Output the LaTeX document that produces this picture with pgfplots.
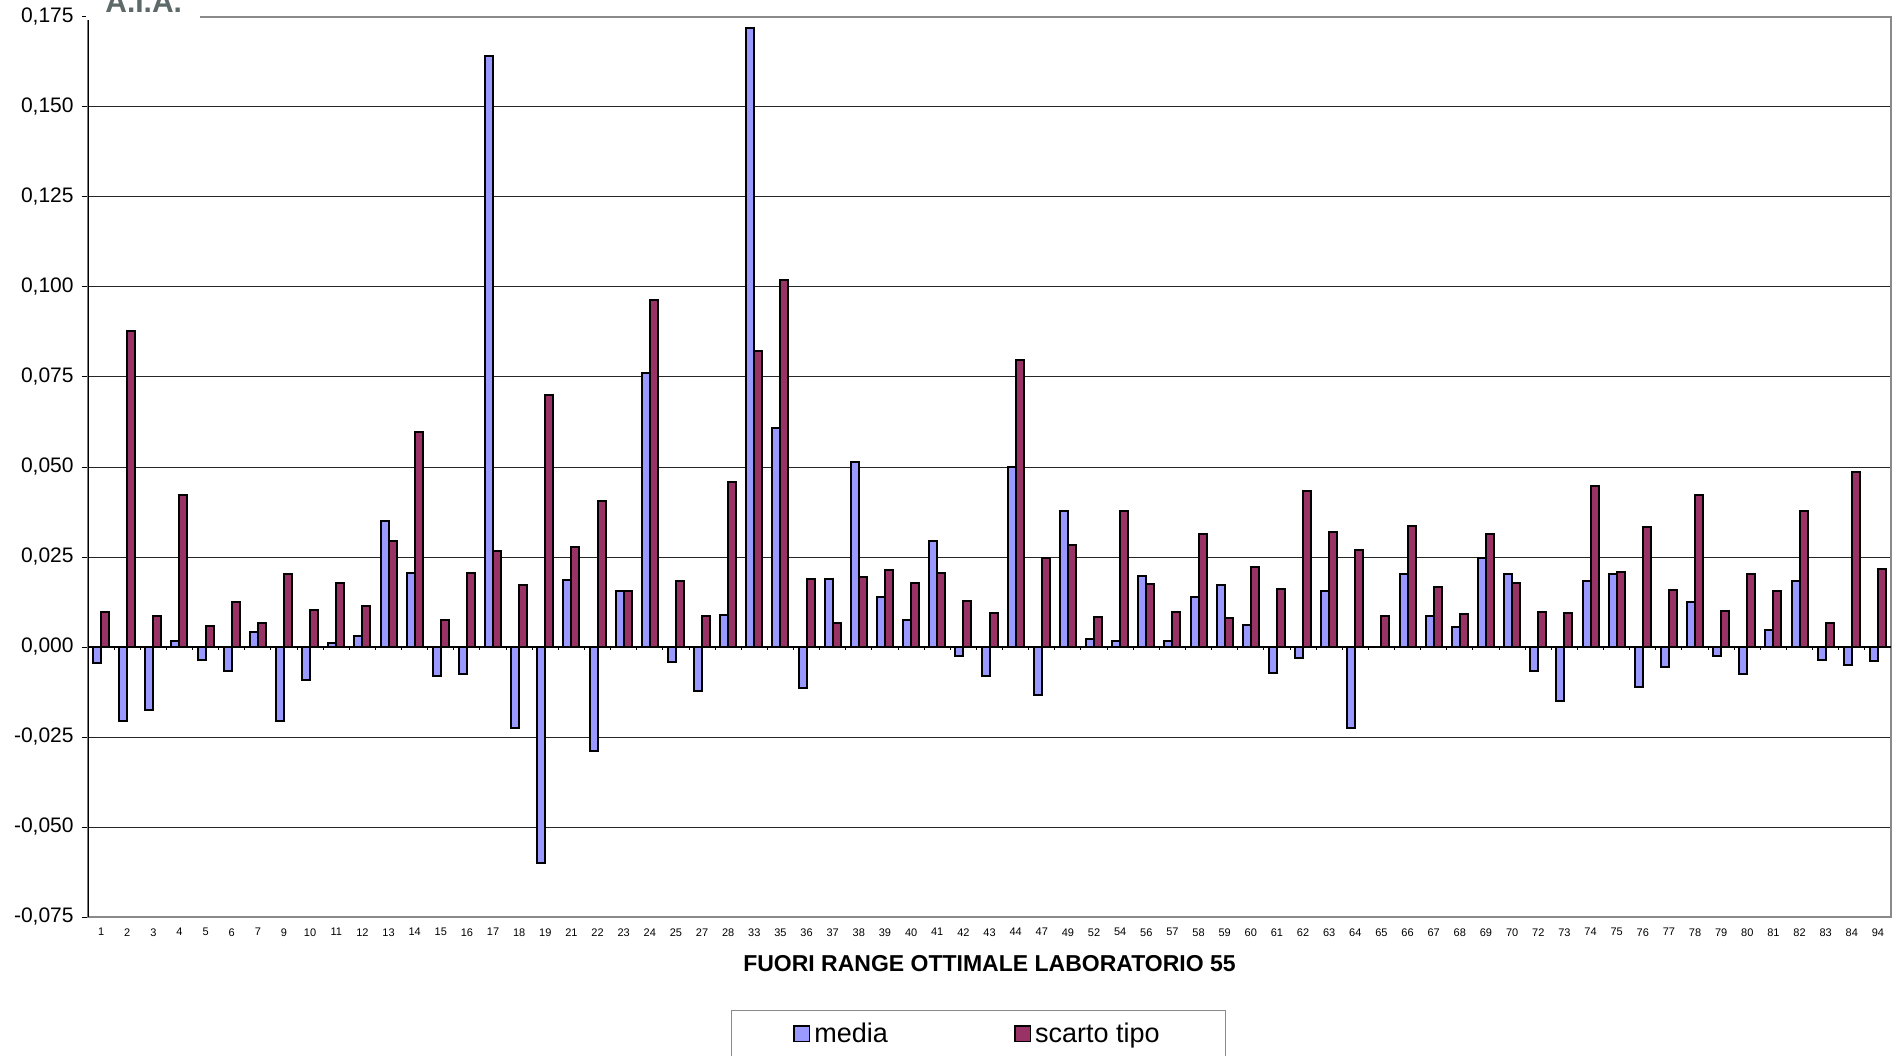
\documentclass[border=0pt]{standalone}
\usepackage{fontspec}
\setmainfont{Liberation Sans}
\usepackage{pgfplots}
\pgfplotsset{compat=1.18}
\definecolor{mediablue}{HTML}{9999FF}
\definecolor{scartored}{HTML}{993366}
\definecolor{framegray}{HTML}{8A8A8A}
\definecolor{logogray}{HTML}{5E6969}

\begin{document}
\begin{tikzpicture}[x=1pt,y=1pt]
\path[use as bounding box] (0,0) rectangle (947,527.5);
\begin{axis}[
  at={(44pt,69pt)}, anchor=south west,
  scale only axis, width=901.5pt, height=450pt,
  xmin=-0.5, xmax=68.5,
  ymin=-0.075, ymax=0.175,
  ytick={-0.075,-0.05,-0.025,0,0.025,0.05,0.075,0.1,0.125,0.15,0.175},
  /pgf/number format/assume math mode=true,
  yticklabel={\pgfmathprintnumber[fixed,fixed zerofill,precision=3,use comma]{\tick}},
  yticklabel style={font=\fontsize{10.5}{12}\selectfont, inner sep=0pt, xshift=-4pt},
  xtick={0,...,68},
  xticklabels={1,2,3,4,5,6,7,9,10,11,12,13,14,15,16,17,18,19,21,22,23,24,25,27,28,33,35,36,37,38,39,40,41,42,43,44,47,49,52,54,56,57,58,59,60,61,62,63,64,65,66,67,68,69,70,72,73,74,75,76,77,78,79,80,81,82,83,84,94},
  xticklabel style={font=\fontsize{5.5}{6}\selectfont, inner sep=0pt, yshift=-2.5pt},
  major x tick style={draw=none},
  ytick pos=left, tick align=outside, major tick length=3pt,
  major y tick style={black, line width=0.5pt},
  ymajorgrids, major grid style={black!85, line width=0.5pt},
  axis line style={framegray, line width=1pt},
  ybar=0pt, bar width=4pt,
  every axis plot/.append style={draw=black, line width=1pt},
  xlabel={\bfseries FUORI RANGE OTTIMALE LABORATORIO 55},
  xlabel style={font=\fontsize{11.5}{13}\selectfont, at={(axis description cs:0.5,0)}, anchor=center, yshift=-23.5pt},
  legend columns=2,
  legend image code/.code={\draw[#1, draw=black, line width=0.8pt] (0pt,-3.9pt) rectangle (7.8pt,3.9pt);},
  legend style={at={(axis description cs:0.4939,0)}, anchor=north, yshift=-46.5pt,
    draw=framegray, line width=0.6pt, font=\fontsize{13.5}{16}\selectfont,
    inner xsep=31pt, inner ysep=4pt},
]
% media
\addplot[fill=mediablue] coordinates {
(0,-0.0045) (1,-0.0205) (2,-0.0175) (3,0.0016) (4,-0.0035) (5,-0.0066) (6,0.0041)
(7,-0.0205) (8,-0.0091) (9,0.0010) (10,0.0031) (11,0.0350) (12,0.0205) (13,-0.0080)
(14,-0.0076) (15,0.1641) (16,-0.0224) (17,-0.0600) (18,0.0185) (19,-0.0290) (20,0.0155)
(21,0.0761) (22,-0.0041) (23,-0.0121) (24,0.0090) (25,0.1720) (26,0.0607) (27,-0.0115)
(28,0.0189) (29,0.0515) (30,0.0139) (31,0.0075) (32,0.0295) (33,-0.0025) (34,-0.0081)
(35,0.0500) (36,-0.0132) (37,0.0377) (38,0.0021) (39,0.0016) (40,0.0197) (41,0.0016)
(42,0.0138) (43,0.0172) (44,0.0061) (45,-0.0071) (46,-0.0030) (47,0.0156) (48,-0.0226)
(50,0.0202) (51,0.0087) (52,0.0056) (53,0.0246) (54,0.0202) (55,-0.0066)
(56,-0.0151) (57,0.0182) (58,0.0202) (59,-0.0110) (60,-0.0055) (61,0.0126) (62,-0.0025)
(63,-0.0076) (64,0.0047) (65,0.0182) (66,-0.0035) (67,-0.0051) (68,-0.0040)
};
% scarto tipo
\addplot[fill=scartored] coordinates {
(0,0.0097) (1,0.0878) (2,0.0086) (3,0.0422) (4,0.0057) (5,0.0126) (6,0.0067)
(7,0.0203) (8,0.0103) (9,0.0179) (10,0.0113) (11,0.0294) (12,0.0597) (13,0.0075)
(14,0.0205) (15,0.0266) (16,0.0173) (17,0.0699) (18,0.0278) (19,0.0405) (20,0.0155)
(21,0.0965) (22,0.0183) (23,0.0087) (24,0.0458) (25,0.0822) (26,0.1020) (27,0.0190)
(28,0.0067) (29,0.0195) (30,0.0215) (31,0.0179) (32,0.0205) (33,0.0128) (34,0.0095)
(35,0.0797) (36,0.0248) (37,0.0284) (38,0.0083) (39,0.0379) (40,0.0174) (41,0.0097)
(42,0.0315) (43,0.0080) (44,0.0222) (45,0.0160) (46,0.0434) (47,0.0320) (48,0.0269)
(49,0.0086) (50,0.0336) (51,0.0168) (52,0.0092) (53,0.0313) (54,0.0178) (55,0.0098)
(56,0.0095) (57,0.0448) (58,0.0209) (59,0.0333) (60,0.0157) (61,0.0422) (62,0.0100)
(63,0.0204) (64,0.0156) (65,0.0379) (66,0.0066) (67,0.0486) (68,0.0217)
};
\legend{media\hspace*{61pt}, scarto tipo}
% zero line with category separators
\draw[black, line width=0.6pt] (axis cs:-0.5,0) -- (axis cs:68.5,0);
\pgfplotsinvokeforeach{0,...,67}{
  \draw[black, line width=0.5pt] (axis cs:#1.5,0) -- ++(0pt,-1.6pt);
}
% left spine
\draw[black, line width=0.8pt] (rel axis cs:0,0) -- (rel axis cs:0,1);
\end{axis}
% logo strip at the top left
\fill[white] (43,517.5) rectangle (100,528);
\node[anchor=base west, text=logogray, font=\bfseries\fontsize{15}{16}\selectfont, inner sep=0pt] at (52.5,521) {A.I.A.};
\end{tikzpicture}
\end{document}
